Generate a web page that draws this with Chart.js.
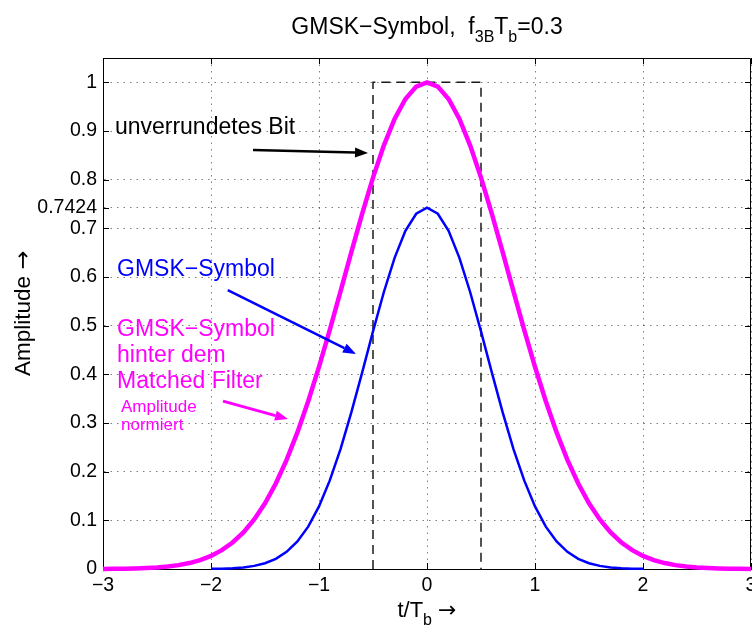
<!DOCTYPE html>
<html>
<head>
<meta charset="utf-8">
<script src="https://cdn.jsdelivr.net/npm/chart.js@4.4.0/dist/chart.umd.min.js"></script>
<style>
    html, body { margin: 0; padding: 0; background: #ffffff; }
    #wrap { width: 752px; height: 625px; }
</style>
</head>
<body>
<div id="wrap"><canvas id="gmskChart" width="752" height="625"></canvas></div>
<script>
// GMSK symbol, f3B*Tb = 0.3
const tSymbol = [-2.0, -1.9, -1.8, -1.7, -1.6, -1.5, -1.4, -1.3, -1.2, -1.1,
                 -1.0, -0.9, -0.8, -0.7, -0.6, -0.5, -0.4, -0.3, -0.2, -0.1,
                  0.0,  0.1,  0.2,  0.3,  0.4,  0.5,  0.6,  0.7,  0.8,  0.9,
                  1.0,  1.1,  1.2,  1.3,  1.4,  1.5,  1.6,  1.7,  1.8,  1.9, 2.0];
const gmskSymbol = [0.0003, 0.0007, 0.0016, 0.0033, 0.0064, 0.0119, 0.0209, 0.0352, 0.0566, 0.0871,
                    0.1285, 0.1820, 0.2470, 0.3222, 0.4041, 0.4882, 0.5687, 0.6394, 0.6948, 0.7300,
                    0.7424,
                    0.7300, 0.6948, 0.6394, 0.5687, 0.4882, 0.4041, 0.3222, 0.2470, 0.1820, 0.1285,
                    0.0871, 0.0566, 0.0352, 0.0209, 0.0119, 0.0064, 0.0033, 0.0016, 0.0007, 0.0003];

const tMatched = [-3.0, -2.9, -2.8, -2.7, -2.6, -2.5, -2.4, -2.3, -2.2, -2.1,
                  -2.0, -1.9, -1.8, -1.7, -1.6, -1.5, -1.4, -1.3, -1.2, -1.1,
                  -1.0, -0.9, -0.8, -0.7, -0.6, -0.5, -0.4, -0.3, -0.2, -0.1,
                   0.0,  0.1,  0.2,  0.3,  0.4,  0.5,  0.6,  0.7,  0.8,  0.9,
                   1.0,  1.1,  1.2,  1.3,  1.4,  1.5,  1.6,  1.7,  1.8,  1.9,
                   2.0,  2.1,  2.2,  2.3,  2.4,  2.5,  2.6,  2.7,  2.8,  2.9, 3.0];
const matchedOut = [0.0002, 0.0004, 0.0007, 0.0012, 0.0020, 0.0032, 0.0051, 0.0080, 0.0122, 0.0183,
                    0.0269, 0.0387, 0.0545, 0.0752, 0.1018, 0.1351, 0.1757, 0.2241, 0.2806, 0.3446,
                    0.4153, 0.4915, 0.5711, 0.6516, 0.7304, 0.8042, 0.8700, 0.9247, 0.9658, 0.9913,
                    1.0000,
                    0.9913, 0.9658, 0.9247, 0.8700, 0.8042, 0.7304, 0.6516, 0.5711, 0.4915, 0.4153,
                    0.3446, 0.2806, 0.2241, 0.1757, 0.1351, 0.1018, 0.0752, 0.0545, 0.0387, 0.0269,
                    0.0183, 0.0122, 0.0080, 0.0051, 0.0032, 0.0020, 0.0012, 0.0007, 0.0004, 0.0002];

// unrounded bit (rectangle)
const bitT = [-0.5, -0.5, 0.5, 0.5];
const bitAmp = [0, 1, 1, 0];

const xTicks = [-3, -2, -1, 0, 1, 2, 3];
const yTicks = [0, 0.1, 0.2, 0.3, 0.4, 0.5, 0.6, 0.7, 0.7424, 0.8, 0.9, 1];

const FONT = "'Liberation Sans', Arial, Helvetica, sans-serif";
const ARROW_FONT = "'DejaVu Sans', sans-serif";
const BLUE = '#0000ff';
const MAGENTA = '#ff00ff';

// text labels inside the plot, placed in data units
const notes = [
    { text: 'unverrundetes Bit', x: -2.89, y: 0.894, color: '#000000', size: 23 },
    { text: 'GMSK\u2212Symbol', x: -2.87, y: 0.602, color: BLUE, size: 23 },
    { text: 'GMSK\u2212Symbol', x: -2.87, y: 0.479, color: MAGENTA, size: 23 },
    { text: 'hinter dem', x: -2.87, y: 0.425, color: MAGENTA, size: 23 },
    { text: 'Matched Filter', x: -2.87, y: 0.372, color: MAGENTA, size: 23 },
    { text: 'Amplitude', x: -2.833, y: 0.323, color: MAGENTA, size: 17 },
    { text: 'normiert', x: -2.833, y: 0.286, color: MAGENTA, size: 17 }
];
const arrows = [
    { from: [-1.611, 0.861], to: [-0.546, 0.855], color: '#000000', width: 2.5 },
    { from: [-1.845, 0.573], to: [-0.657, 0.442], color: BLUE, width: 2.5 },
    { from: [-1.889, 0.345], to: [-1.287, 0.308], color: MAGENTA, width: 3 }
];

function toPoints(xs, ys) {
    return xs.map((x, i) => ({ x: x, y: ys[i] }));
}

function drawArrow(ctx, x1, y1, x2, y2, color, width) {
    const ang = Math.atan2(y2 - y1, x2 - x1);
    const head = 13, half = 5;
    const bx = x2 - head * Math.cos(ang);
    const by = y2 - head * Math.sin(ang);
    ctx.save();
    ctx.strokeStyle = color;
    ctx.fillStyle = color;
    ctx.lineWidth = width;
    ctx.beginPath();
    ctx.moveTo(x1, y1);
    ctx.lineTo(bx, by);
    ctx.stroke();
    ctx.beginPath();
    ctx.moveTo(x2, y2);
    ctx.lineTo(bx + half * Math.sin(ang), by - half * Math.cos(ang));
    ctx.lineTo(bx - half * Math.sin(ang), by + half * Math.cos(ang));
    ctx.closePath();
    ctx.fill();
    ctx.restore();
}

// draw text runs with subscripts, centred on cx
function drawRuns(ctx, runs, cx, baseline, size, subSize, subDrop) {
    const fontOf = r => (r.sub ? subSize : size) + 'px ' + (r.family || FONT);
    let total = 0;
    runs.forEach(r => {
        ctx.font = fontOf(r);
        r.w = ctx.measureText(r.text).width;
        total += r.w;
    });
    let x = cx - total / 2;
    ctx.textAlign = 'left';
    ctx.textBaseline = 'alphabetic';
    runs.forEach(r => {
        ctx.font = fontOf(r);
        ctx.fillText(r.text, x, baseline + (r.sub ? subDrop : 0));
        x += r.w;
    });
}

const matlabAxes = {
    id: 'matlabAxes',
    beforeDatasetsDraw(chart) {
        const { ctx, chartArea: a, scales: { x, y } } = chart;
        ctx.save();
        ctx.strokeStyle = '#000000';
        ctx.lineWidth = 1;
        ctx.beginPath();
        ctx.rect(a.left + 0.5, a.top + 0.5, a.right - a.left - 1, a.bottom - a.top);
        ctx.stroke();
        // inward tick marks on all four sides
        ctx.beginPath();
        xTicks.forEach(v => {
            const px = Math.round(x.getPixelForValue(v)) + 0.5;
            ctx.moveTo(px, a.bottom); ctx.lineTo(px, a.bottom - 6);
            ctx.moveTo(px, a.top); ctx.lineTo(px, a.top + 6);
        });
        yTicks.forEach(v => {
            const py = Math.round(y.getPixelForValue(v)) + 0.5;
            ctx.moveTo(a.left, py); ctx.lineTo(a.left + 6, py);
            ctx.moveTo(a.right, py); ctx.lineTo(a.right - 6, py);
        });
        ctx.stroke();
        ctx.restore();
    },
    afterDatasetsDraw(chart) {
        const { ctx, scales: { x, y } } = chart;
        ctx.save();
        ctx.textAlign = 'left';
        ctx.textBaseline = 'alphabetic';
        notes.forEach(n => {
            ctx.font = n.size + 'px ' + FONT;
            ctx.fillStyle = n.color;
            ctx.fillText(n.text, x.getPixelForValue(n.x), y.getPixelForValue(n.y));
        });
        arrows.forEach(a => {
            drawArrow(ctx,
                x.getPixelForValue(a.from[0]), y.getPixelForValue(a.from[1]),
                x.getPixelForValue(a.to[0]), y.getPixelForValue(a.to[1]),
                a.color, a.width);
        });
        ctx.restore();
    },
    afterDraw(chart) {
        const { ctx, chartArea: a } = chart;
        const cx = (a.left + a.right) / 2;
        ctx.save();
        ctx.fillStyle = '#000000';
        // title
        drawRuns(ctx, [
            { text: 'GMSK\u2212Symbol,  f' },
            { text: '3B', sub: true },
            { text: 'T' },
            { text: 'b', sub: true },
            { text: '=0.3' }
        ], cx, 34, 23, 16, 8);
        // x axis label
        drawRuns(ctx, [
            { text: 't/T' },
            { text: 'b', sub: true },
            { text: ' ' },
            { text: '\u2192', family: ARROW_FONT }
        ], cx, 617, 22, 16, 8);
        // y axis label
        ctx.translate(0, 0);
        ctx.translate(22, (a.top + a.bottom) / 2);
        ctx.rotate(-Math.PI / 2);
        drawRuns(ctx, [
            { text: 'Amplitude ' },
            { text: '\u2192', family: ARROW_FONT }
        ], 0, 8, 22.5, 16, 0);
        ctx.restore();
    }
};

const chart = new Chart(document.getElementById('gmskChart'), {
    type: 'line',
    data: {
        datasets: [
            {
                label: 'GMSK-Symbol hinter dem Matched Filter',
                data: toPoints(tMatched, matchedOut),
                borderColor: MAGENTA,
                borderWidth: 4.5,
                pointRadius: 0,
                tension: 0,
                clip: false
            },
            {
                label: 'GMSK-Symbol',
                data: toPoints(tSymbol, gmskSymbol),
                borderColor: BLUE,
                borderWidth: 2.5,
                pointRadius: 0,
                tension: 0,
                clip: false
            },
            {
                label: 'unverrundetes Bit',
                data: toPoints(bitT, bitAmp),
                borderColor: '#1a1a1a',
                borderWidth: 1.5,
                borderDash: [9, 6],
                pointRadius: 0,
                tension: 0
            }
        ]
    },
    options: {
        responsive: false,
        animation: false,
        devicePixelRatio: 1,
        layout: {
            padding: { top: 58, right: 1, left: 0, bottom: 0 }
        },
        scales: {
            x: {
                type: 'linear',
                min: -3,
                max: 3,
                afterBuildTicks: scale => {
                    scale.ticks = xTicks.map(v => ({ value: v }));
                },
                afterFit: scale => {
                    scale.height = 56;
                    scale.paddingLeft = 0;
                    scale.paddingRight = 0;
                },
                ticks: {
                    autoSkip: false,
                    maxRotation: 0,
                    padding: 5,
                    color: '#000000',
                    font: { family: FONT, size: 19.5 },
                    callback: v => String(v).replace('-', '\u2212')
                },
                grid: {
                    drawTicks: false,
                    color: 'rgba(0, 0, 0, 0.5)',
                    lineWidth: 1
                },
                border: {
                    color: '#000000',
                    width: 1,
                    dash: [1.5, 5]
                }
            },
            y: {
                type: 'linear',
                min: 0,
                max: 1.05,
                afterBuildTicks: scale => {
                    scale.ticks = yTicks.map(v => ({ value: v }));
                },
                afterFit: scale => {
                    scale.width = 103;
                    scale.paddingTop = 0;
                    scale.paddingBottom = 0;
                },
                ticks: {
                    autoSkip: false,
                    padding: 6,
                    color: '#000000',
                    font: { family: FONT, size: 19.5 },
                    callback: v => String(v)
                },
                grid: {
                    drawTicks: false,
                    color: 'rgba(0, 0, 0, 0.5)',
                    lineWidth: 1
                },
                border: {
                    color: '#000000',
                    width: 1,
                    dash: [1.5, 5]
                }
            }
        },
        plugins: {
            legend: { display: false },
            title: { display: false },
            tooltip: { enabled: false }
        }
    },
    plugins: [matlabAxes]
});
</script>
</body>
</html>
